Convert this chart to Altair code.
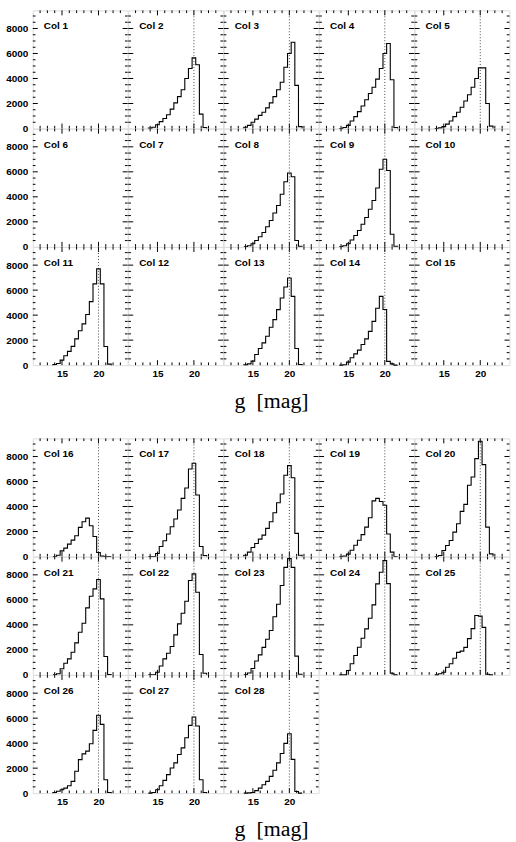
import altair as alt
import pandas as pd

# ---------------- data ----------------
BIN_CENTERS = [14.0, 14.5, 15.0, 15.5, 16.0, 16.5, 17.0, 17.5,
               18.0, 18.5, 19.0, 19.5, 20.0, 20.5, 21.0, 21.5]
BIN_WIDTH = 0.5
LIMIT_MAG = 20.0

col02 = [30, 100, 300, 550, 800, 1100, 1550, 2050, 2550, 3100, 4000, 4800, 5650, 5100, 1150, 80]
col03 = [100, 250, 500, 750, 1050, 1300, 1650, 2050, 2550, 3100, 3700, 4900, 6000, 6900, 3450, 150]
col04 = [0, 80, 250, 600, 950, 1350, 1800, 2300, 2800, 3300, 3950, 4800, 6000, 6800, 3900, 80]
col05 = [0, 50, 150, 350, 600, 950, 1300, 1700, 2200, 2700, 3300, 4000, 4850, 4850, 2000, 190]
col08 = [0, 80, 250, 500, 800, 1150, 1600, 2100, 2700, 3300, 4200, 5200, 5900, 5600, 500, 50]
col09 = [0, 80, 250, 550, 900, 1300, 1800, 2350, 3000, 3700, 4700, 6200, 7000, 6100, 1000, 50]
col11 = [50, 130, 400, 750, 1100, 1500, 2100, 2750, 3300, 4050, 5080, 6500, 7700, 6500, 1490, 80]
col13 = [30, 100, 320, 850, 1330, 1780, 2310, 3030, 3640, 4440, 5370, 6250, 6970, 5500, 1330, 50]
col14 = [0, 30, 240, 590, 900, 1200, 1650, 2100, 2700, 3500, 4550, 5500, 4450, 300, 100, 0]
col16 = [0, 100, 450, 670, 990, 1310, 1660, 2330, 2780, 3070, 2460, 1600, 320, 30, 0, 0]
col17 = [0, 0, 240, 800, 1260, 1800, 2380, 3000, 3720, 4650, 5480, 7000, 7460, 4920, 800, 80]
col18 = [100, 350, 720, 1040, 1390, 1710, 2250, 2780, 3500, 4300, 5000, 6500, 7270, 6300, 1850, 100]
col19 = [0, 30, 190, 500, 900, 1300, 1750, 2350, 3100, 4450, 4650, 4400, 4100, 1800, 350, 0]
col20 = [0, 80, 480, 880, 1280, 1950, 2620, 3610, 4170, 5700, 6360, 7830, 9220, 7350, 2350, 210]
col21 = [0, 80, 480, 930, 1280, 1810, 2560, 3410, 4130, 5360, 6290, 6880, 7630, 6080, 1470, 30]
col22 = [0, 0, 200, 700, 1280, 1730, 2270, 3200, 4080, 4930, 5890, 7550, 8080, 6610, 1630, 130]
col23 = [0, 150, 500, 1100, 1600, 2200, 2850, 3550, 4650, 5650, 7150, 8600, 9300, 8600, 1500, 50]
col24 = [0, 0, 350, 880, 1550, 2210, 2930, 3680, 4530, 5600, 7280, 8210, 9150, 7300, 130, 0]
col25 = [0, 80, 210, 600, 880, 1330, 1800, 1900, 2200, 2900, 3700, 4750, 4700, 3800, 50, 0]
col26 = [50, 150, 270, 400, 590, 940, 1750, 2680, 3140, 3360, 3950, 5020, 6230, 5500, 1070, 50]
col27 = [0, 50, 270, 590, 1020, 1480, 2010, 2420, 3090, 3620, 4430, 5420, 6090, 5370, 1070, 50]
col28 = [0, 20, 50, 200, 400, 670, 940, 1340, 1830, 2420, 3170, 3980, 4750, 2700, 130, 0]

COUNTS = {2: col02, 3: col03, 4: col04, 5: col05, 8: col08, 9: col09,
          11: col11, 13: col13, 14: col14, 16: col16, 17: col17, 18: col18,
          19: col19, 20: col20, 21: col21, 22: col22, 23: col23, 24: col24,
          25: col25, 26: col26, 27: col27, 28: col28}

X_DOMAIN = [11, 24]
Y_DOMAIN = [0, 9450]
X_MAJOR = [15, 20]
X_MINOR = [12, 13, 14, 16, 17, 18, 19, 21, 22, 23]
Y_MAJOR = [2000, 4000, 6000, 8000]
Y_MINOR = [500, 1000, 1500, 2500, 3000, 3500, 4500, 5000, 5500,
           6500, 7000, 7500, 8500, 9000]
X_LABELS = [15, 20]
Y_LABELS = [0, 2000, 4000, 6000, 8000]
X_TITLE = "g\u00a0\u00a0[mag]"

# ---------------- styling ----------------
W, H = 95.4, 118.8
MAJOR_LEN, MINOR_LEN = 5.0, 2.7
SANS = "Liberation Sans"
SERIF = "Liberation Serif"
XS = alt.Scale(domain=X_DOMAIN, nice=False, zero=False)
YS = alt.Scale(domain=Y_DOMAIN, nice=False)


def step_frame(counts):
    edges = [c - BIN_WIDTH / 2 for c in BIN_CENTERS]
    xs = [edges[0]] + edges + [edges[-1] + BIN_WIDTH]
    ys = [0] + list(counts) + [0]
    return pd.DataFrame({"x": xs, "y": ys, "i": list(range(len(xs)))})


def panel(n, show_y, show_x, with_title):
    if show_x:
        xaxis = alt.Axis(values=X_LABELS, ticks=False, domain=False, grid=False,
                         labelFont=SANS, labelFontSize=10, labelFontWeight="bold",
                         labelColor="black", labelPadding=3, format="d",
                         title=X_TITLE if with_title else "",
                         titleFont=SERIF, titleFontSize=22, titleFontWeight="normal",
                         titleColor="black", titlePadding=13)
    else:
        xaxis = None
    if show_y:
        yaxis = alt.Axis(values=Y_LABELS, ticks=False, domain=False, grid=False,
                         title="", labelFont=SANS, labelFontSize=10,
                         labelFontWeight="bold", format="d",
                         labelColor="black", labelPadding=5)
    else:
        yaxis = None

    X = lambda f: alt.X(f, type="quantitative", scale=XS, axis=xaxis)
    Y = lambda f: alt.Y(f, type="quantitative", scale=YS, axis=yaxis)

    layers = []
    for vals, L in ((X_MAJOR, MAJOR_LEN), (X_MINOR, MINOR_LEN)):
        d = pd.DataFrame({"v": vals})
        layers.append(alt.Chart(d).mark_rule(color="black", strokeWidth=1).encode(
            x=X("v"), y=alt.value(H), y2=alt.value(H - L)))
        layers.append(alt.Chart(d).mark_rule(color="black", strokeWidth=1).encode(
            x=X("v"), y=alt.value(0), y2=alt.value(L)))
    for vals, L in ((Y_MAJOR, MAJOR_LEN), (Y_MINOR, MINOR_LEN)):
        d = pd.DataFrame({"v": vals})
        layers.append(alt.Chart(d).mark_rule(color="black", strokeWidth=1).encode(
            y=Y("v"), x=alt.value(0), x2=alt.value(L)))
        layers.append(alt.Chart(d).mark_rule(color="black", strokeWidth=1).encode(
            y=Y("v"), x=alt.value(W), x2=alt.value(W - L)))

    if n in COUNTS:
        layers.append(alt.Chart(pd.DataFrame({"m": [LIMIT_MAG]})).mark_rule(
            color="#333333", strokeWidth=0.9, strokeDash=[1, 2]).encode(x=X("m")))
        layers.append(alt.Chart(step_frame(COUNTS[n])).mark_line(
            interpolate="step-after", color="black", strokeWidth=1.1).encode(
            x=X("x"), y=Y("y"), order="i:Q"))

    layers.append(alt.Chart(pd.DataFrame({"label": [f"Col {n}"]})).mark_text(
        align="left", baseline="middle", font=SANS, fontSize=10, fontWeight="bold",
        color="black").encode(
        x=alt.value(11), y=alt.value(16), text="label:N"))

    return alt.layer(*layers).properties(width=W, height=H)


def block(first, last):
    nums = list(range(first, last + 1))
    panels = []
    for k, n in enumerate(nums):
        row, colpos = divmod(k, 5)
        panels.append(panel(n, show_y=(colpos == 0), show_x=(row == 2),
                            with_title=(row == 2 and colpos == 2)))
    return alt.concat(*panels, columns=5, spacing=0, bounds="flush")


chart = alt.vconcat(block(1, 15), block(16, 28), spacing=24.5).properties(
    padding={"left": 5, "top": 7, "right": 5, "bottom": 0}
).configure_view(stroke="black", strokeWidth=1.1).configure(background="white")

chart.save("out.html", embed_options={"renderer": "svg", "actions": False})
